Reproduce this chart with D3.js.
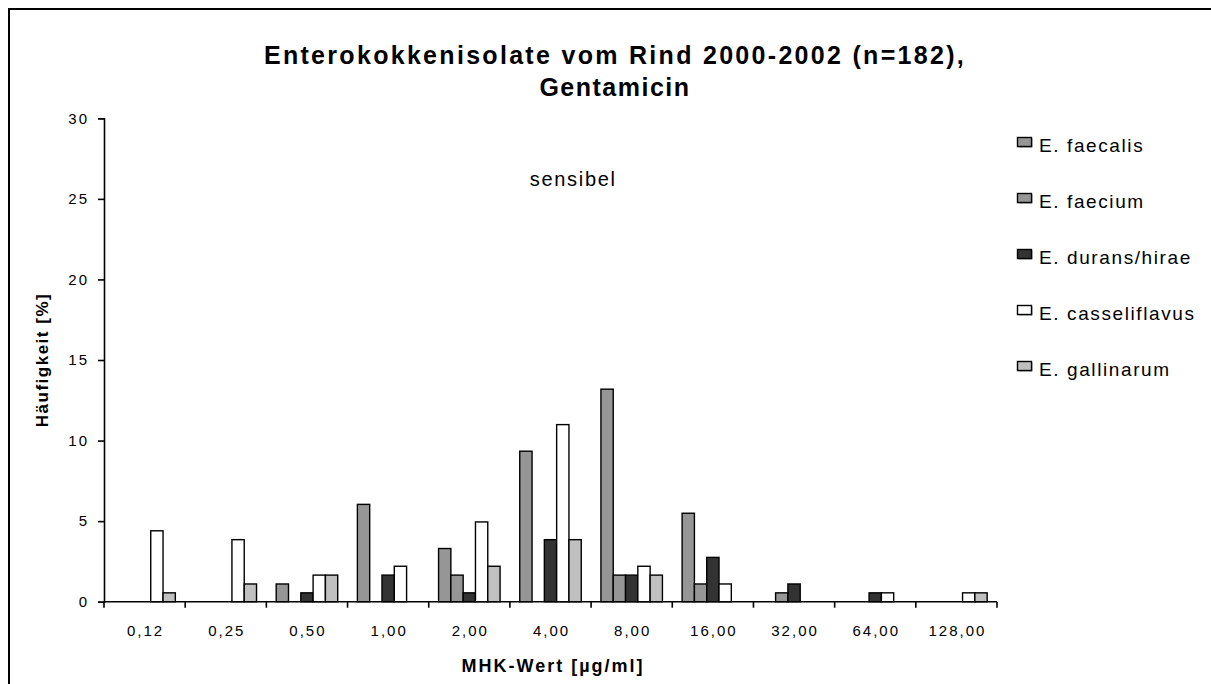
<!DOCTYPE html>
<html>
<head>
<meta charset="utf-8">
<script src="https://cdn.jsdelivr.net/npm/d3@7"></script>
<style>
  html, body { margin: 0; padding: 0; background: #fff; }
  svg { display: block; font-family: "Liberation Sans", Arial, sans-serif; }
</style>
</head>
<body>
<svg id="chart" width="1211" height="684"></svg>
<script>
// MIC classes (µg/ml)
const categories = ["0,12", "0,25", "0,50", "1,00", "2,00", "4,00", "8,00", "16,00", "32,00", "64,00", "128,00"];

// Species shown in the legend
const seriesNames = ["E. faecalis", "E. faecium", "E. durans/hirae", "E. casseliflavus", "E. gallinarum"];

// Share of isolates per MIC class [%]
const faecalis      = [0,    0,    1.10, 6.04, 3.30, 9.34, 13.19, 5.49, 0,    0,    0];
const faecium       = [0,    0,    0,    0,    1.65, 0,    1.65,  1.10, 0.55, 0,    0];
const duransHirae   = [0,    0,    0.55, 1.65, 0.55, 3.85, 1.65,  2.75, 1.10, 0.55, 0];
const casseliflavus = [4.40, 3.85, 1.65, 2.20, 4.95, 10.99, 2.20, 1.10, 0,    0.55, 0.55];
const gallinarum    = [0.55, 1.10, 1.65, 0,    2.20, 3.85, 1.65,  0,    0,    0,    0.55];

const seriesValues = [faecalis, faecium, duransHirae, casseliflavus, gallinarum];
const seriesColors = ["#969696", "#969696", "#333333", "#ffffff", "#c0c0c0"];

const yTicks = [0, 5, 10, 15, 20, 25, 30];

const svg = d3.select("#chart");

// frame around the chart area
svg.append("path")
  .attr("d", "M9,700 L9,9 L1220,9")
  .attr("fill", "none")
  .attr("stroke", "#000")
  .attr("stroke-width", 2);

const plot = { left: 104, right: 997, top: 118.3, bottom: 601.7 };

const x0 = d3.scaleBand().domain(categories).range([plot.left, plot.right]).padding(0);
const x1 = d3.scaleBand().domain(seriesNames).range([0, x0.bandwidth()]).paddingInner(0).paddingOuter(0.8);
const y = d3.scaleLinear().domain([0, 30]).range([plot.bottom, plot.top]);

// bars
const rows = [];
seriesNames.forEach((name, si) => {
  categories.forEach((cat, ci) => {
    const v = seriesValues[si][ci];
    if (v > 0) rows.push({ name, cat, v, color: seriesColors[si] });
  });
});

svg.append("g").selectAll("rect")
  .data(rows)
  .join("rect")
  .attr("x", d => x0(d.cat) + x1(d.name))
  .attr("y", d => y(d.v))
  .attr("width", x1.bandwidth())
  .attr("height", d => y(0) - y(d.v))
  .attr("fill", d => d.color)
  .attr("stroke", "#000")
  .attr("stroke-width", 1.4);

// y axis
const yAxis = svg.append("g")
  .attr("transform", `translate(${plot.left},0)`)
  .call(d3.axisLeft(y).tickValues(yTicks).tickSize(6).tickPadding(9).tickFormat(d3.format("d")));
yAxis.select(".domain").attr("stroke", "#000").attr("stroke-width", 1.6);
yAxis.selectAll(".tick line").attr("stroke", "#000").attr("stroke-width", 1.6);
yAxis.selectAll(".tick text")
  .attr("font-size", 15)
  .attr("letter-spacing", 2)
  .attr("font-family", "Liberation Sans, Arial, sans-serif")
  .attr("fill", "#000");

// x axis: labels centred in each class, tick marks on the class boundaries
const xAxis = svg.append("g")
  .attr("transform", `translate(0,${plot.bottom})`)
  .call(d3.axisBottom(x0).tickSize(0).tickPadding(24));
xAxis.select(".domain").remove();
xAxis.selectAll(".tick text")
  .attr("font-size", 15)
  .attr("letter-spacing", 2)
  .attr("dx", 1)
  .attr("font-family", "Liberation Sans, Arial, sans-serif")
  .attr("fill", "#000");

svg.append("line")
  .attr("x1", plot.left).attr("x2", plot.right)
  .attr("y1", plot.bottom).attr("y2", plot.bottom)
  .attr("stroke", "#000").attr("stroke-width", 1.6);

const boundaries = categories.map(c => x0(c)).concat([x0.range()[1]]);
svg.append("g").selectAll("line")
  .data(boundaries)
  .join("line")
  .attr("x1", d => d).attr("x2", d => d)
  .attr("y1", plot.bottom).attr("y2", plot.bottom + 6)
  .attr("stroke", "#000").attr("stroke-width", 1.6);

// titles
svg.append("text")
  .attr("x", 615).attr("y", 64)
  .attr("text-anchor", "middle")
  .attr("font-size", 25).attr("font-weight", "bold")
  .attr("letter-spacing", 2.3)
  .text("Enterokokkenisolate vom Rind 2000-2002 (n=182),");
svg.append("text")
  .attr("x", 615).attr("y", 96)
  .attr("text-anchor", "middle")
  .attr("font-size", 25).attr("font-weight", "bold")
  .attr("letter-spacing", 1.5)
  .text("Gentamicin");

svg.append("text")
  .attr("x", 553).attr("y", 672)
  .attr("text-anchor", "middle")
  .attr("font-size", 18).attr("font-weight", "bold")
  .attr("letter-spacing", 2)
  .text("MHK-Wert [µg/ml]");

svg.append("text")
  .attr("transform", `translate(48,${(plot.top + plot.bottom) / 2}) rotate(-90)`)
  .attr("text-anchor", "middle")
  .attr("font-size", 17).attr("font-weight", "bold")
  .attr("letter-spacing", 1.5)
  .text("Häufigkeit [%]");

// annotation
svg.append("text")
  .attr("x", x0("4,00") + x0.bandwidth() * 0.78)
  .attr("y", y(25.8))
  .attr("text-anchor", "middle")
  .attr("font-size", 20)
  .attr("letter-spacing", 1.7)
  .text("sensibel");

// legend
const legend = svg.append("g").attr("transform", "translate(1017,137)");
const item = legend.selectAll("g")
  .data(seriesNames)
  .join("g")
  .attr("transform", (d, i) => `translate(0,${i * 56})`);
item.append("rect")
  .attr("x", 1.5).attr("y", 1.5).attr("width", 14).attr("height", 9)
  .attr("fill", "#888");
item.append("rect")
  .attr("x", 0.5).attr("y", 0.5).attr("width", 14).attr("height", 9)
  .attr("fill", (d, i) => seriesColors[i])
  .attr("stroke", "#000").attr("stroke-width", 1.4);
item.append("text")
  .attr("x", 22).attr("y", 15)
  .attr("font-size", 19)
  .attr("letter-spacing", 1.6)
  .text(d => d);
</script>
</body>
</html>
